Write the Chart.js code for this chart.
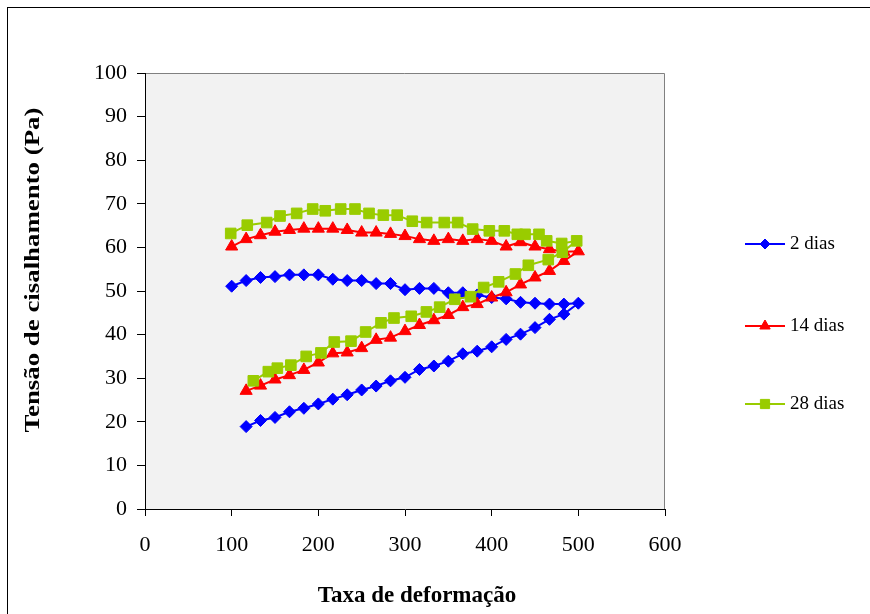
<!DOCTYPE html>
<html>
<head>
<meta charset="utf-8">
<script src="https://cdn.jsdelivr.net/npm/chart.js@4.4.1/dist/chart.umd.min.js"></script>
<style>
    html, body { margin: 0; padding: 0; background: #fff; }
    #wrap { width: 870px; height: 614px; }
</style>
</head>
<body>
<div id="wrap"><canvas id="shearChart" width="870" height="614"></canvas></div>
<script>
// Shear rate values (rising branch, then falling branch) - 2 and 14 dias
const rateUp = [116.7, 133.3, 150, 166.7, 183.3, 200, 216.7, 233.3, 250, 266.7, 283.3, 300,
    316.7, 333.3, 350, 366.7, 383.3, 400, 416.7, 433.3, 450, 466.7, 483.3, 500];
const rateDown = [483.3, 466.7, 450, 433.3, 416.7, 400, 383.3, 366.7, 350, 333.3, 316.7, 300,
    283.3, 266.7, 250, 233.3, 216.7, 200, 183.3, 166.7, 150, 133.3, 116.7, 100];

// 2 dias
const stressUp2 = [18.9, 20.3, 21.0, 22.3, 23.1, 24.1, 25.2, 26.2, 27.3, 28.2, 29.4, 30.2,
    32.0, 32.8, 33.9, 35.6, 36.2, 37.2, 38.9, 40.1, 41.6, 43.5, 44.7, 47.2];
const stressDown2 = [47.0, 47.0, 47.2, 47.4, 48.2, 48.5, 49.1, 49.6, 49.6, 50.6, 50.6, 50.3,
    51.7, 51.7, 52.4, 52.4, 52.7, 53.7, 53.7, 53.7, 53.3, 53.1, 52.4, 51.1];

// 14 dias
const stressUp14 = [27.1, 28.3, 29.7, 30.7, 31.9, 33.6, 35.7, 35.9, 36.9, 38.8, 39.3, 40.8,
    42.2, 43.3, 44.5, 46.3, 47.0, 48.5, 49.7, 51.5, 53.1, 54.6, 56.9, 59.1];
const stressDown14 = [59.0, 59.6, 60.2, 61.2, 60.2, 61.5, 61.9, 61.5, 61.9, 61.5, 61.9, 62.6,
    63.1, 63.4, 63.4, 64.0, 64.3, 64.3, 64.3, 64.0, 63.6, 62.8, 61.9, 60.2];

// 28 dias (own shear rate values)
const rateUp28 = [125, 142.3, 152.7, 168.3, 186, 203, 218.4, 237.7, 254.6, 272.3, 287.3, 307.2,
    324.7, 340, 357.4, 375.5, 390.8, 408.1, 427.4, 442.3, 465.3, 481.5, 498.1];
const stressUp28 = [29.4, 31.5, 32.3, 33.0, 35.0, 35.8, 38.3, 38.5, 40.6, 42.7, 43.8, 44.2,
    45.2, 46.3, 48.1, 48.7, 50.8, 52.1, 53.9, 55.9, 57.2, 58.9, 61.5];
const rateDown28 = [480.8, 463.5, 454.6, 438.5, 429.6, 414.6, 397.3, 378.1, 360.8, 345.3, 325, 308.4,
    291, 275, 258.5, 242.3, 225.8, 208, 193.5, 175, 155.8, 140.4, 118, 98.9];
const stressDown28 = [60.9, 61.5, 63.0, 63.0, 63.0, 63.8, 63.8, 64.2, 65.7, 65.7, 65.7, 66.0,
    67.4, 67.4, 67.8, 68.8, 68.8, 68.4, 68.8, 67.8, 67.2, 65.7, 65.1, 63.2];

const seriesLabels = ['2 dias', '14 dias', '28 dias'];
const seriesColors = ['#0000ff', '#ff0000', '#99cc00'];
const xTitle = 'Taxa de deformação';
const yTitle = 'Tensão de cisalhamento (Pa)';

function toPoints(xs, ys) {
    return xs.map((x, i) => ({ x: x, y: ys[i] }));
}

const FONT = "'Liberation Serif', 'Times New Roman', serif";

// Plot background, outer frame
const plotFrame = {
    id: 'plotFrame',
    beforeDraw(chart) {
        const { ctx, chartArea: a } = chart;
        ctx.save();
        ctx.fillStyle = '#ffffff';
        ctx.fillRect(0, 0, chart.width, chart.height);
        ctx.strokeStyle = '#000000';
        ctx.lineWidth = 1;
        ctx.strokeRect(7.5, 7.5, chart.width + 20, chart.height + 20);
        ctx.fillStyle = '#f2f2f2';
        ctx.fillRect(a.left, a.top, a.width, a.height);
        ctx.strokeStyle = '#808080';
        ctx.beginPath();
        ctx.moveTo(a.left, a.top + 0.5);
        ctx.lineTo(a.right - 0.5, a.top + 0.5);
        ctx.lineTo(a.right - 0.5, a.bottom);
        ctx.stroke();
        ctx.restore();
    }
};

// Axis titles (the y one is drawn a bit stretched, like the original)
const axisTitles = {
    id: 'axisTitles',
    afterDraw(chart, args, opts) {
        const ctx = chart.ctx;
        ctx.save();
        ctx.fillStyle = '#000';
        ctx.textAlign = 'center';
        ctx.textBaseline = 'middle';
        ctx.font = 'bold 23px ' + FONT;
        ctx.fillText(xTitle, opts.xPos[0], opts.xPos[1]);
        ctx.translate(opts.yPos[0], opts.yPos[1]);
        ctx.rotate(-Math.PI / 2);
        ctx.scale(1.22, 1);
        ctx.font = 'bold 22px ' + FONT;
        ctx.fillText(yTitle, 0, 0);
        ctx.restore();
    }
};

// Legend on the right: line + marker + label
const sideLegend = {
    id: 'sideLegend',
    afterDraw(chart, args, opts) {
        const ctx = chart.ctx;
        chart.data.datasets.forEach((ds, i) => {
            const y = opts.rows[i];
            ctx.save();
            ctx.strokeStyle = ds.borderColor;
            ctx.lineWidth = 2;
            ctx.beginPath();
            ctx.moveTo(opts.x, y);
            ctx.lineTo(opts.x + 40, y);
            ctx.stroke();
            ctx.fillStyle = ds.borderColor;
            ctx.strokeStyle = ds.borderColor;
            ctx.lineWidth = 1;
            Chart.helpers.drawPoint(ctx, { pointStyle: ds.pointStyle, radius: ds.pointRadius - 1, borderWidth: 1 }, opts.x + 20, y);
            ctx.fillStyle = '#000';
            ctx.font = '19px ' + FONT;
            ctx.textBaseline = 'middle';
            ctx.fillText(ds.label, opts.x + 45, y);
            ctx.restore();
        });
    }
};

const pointStyles = ['rectRot', 'triangle', 'rect'];
const pointSizes = [6, 7, 7.5];
const seriesData = [
    toPoints(rateUp, stressUp2).concat(toPoints(rateDown, stressDown2)),
    toPoints(rateUp, stressUp14).concat(toPoints(rateDown, stressDown14)),
    toPoints(rateUp28, stressUp28).concat(toPoints(rateDown28, stressDown28))
];

const datasets = seriesData.map((pts, i) => ({
    label: seriesLabels[i],
    data: pts,
    showLine: true,
    borderColor: seriesColors[i],
    backgroundColor: seriesColors[i],
    borderWidth: 2,
    pointStyle: pointStyles[i],
    pointRadius: pointSizes[i],
    pointBorderWidth: 1,
    pointBackgroundColor: seriesColors[i],
    pointBorderColor: seriesColors[i],
    tension: 0,
    order: 3 - i
}));

new Chart(document.getElementById('shearChart'), {
    type: 'scatter',
    data: { datasets: datasets },
    plugins: [plotFrame, axisTitles, sideLegend],
    options: {
        responsive: false,
        animation: false,
        devicePixelRatio: 1,
        layout: { padding: { left: 0, top: 73, right: 205, bottom: 0 } },
        plugins: {
            legend: { display: false },
            tooltip: { enabled: false },
            sideLegend: { x: 745, rows: [244, 326, 404] },
            axisTitles: { xPos: [417, 596], yPos: [33, 270] }
        },
        scales: {
            x: {
                type: 'linear',
                min: 0,
                max: 600,
                ticks: { stepSize: 100, color: '#000', padding: 16, maxRotation: 0,
                    font: { family: FONT, size: 22 } },
                grid: { drawOnChartArea: false, drawTicks: true, tickLength: 7, color: '#000' },
                border: { color: '#000' },
                afterFit(scale) {
                    scale.height = 105;
                    scale.paddingLeft = 0;
                    scale.paddingRight = 0;
                }
            },
            y: {
                type: 'linear',
                min: 0,
                max: 100,
                ticks: { stepSize: 10, color: '#000', padding: 10,
                    font: { family: FONT, size: 22 } },
                grid: { drawOnChartArea: false, drawTicks: true, tickLength: 8, color: '#000' },
                border: { color: '#000' },
                afterFit(scale) {
                    scale.width = 145;
                    scale.paddingTop = 0;
                    scale.paddingBottom = 0;
                }
            }
        }
    }
});
</script>
</body>
</html>
